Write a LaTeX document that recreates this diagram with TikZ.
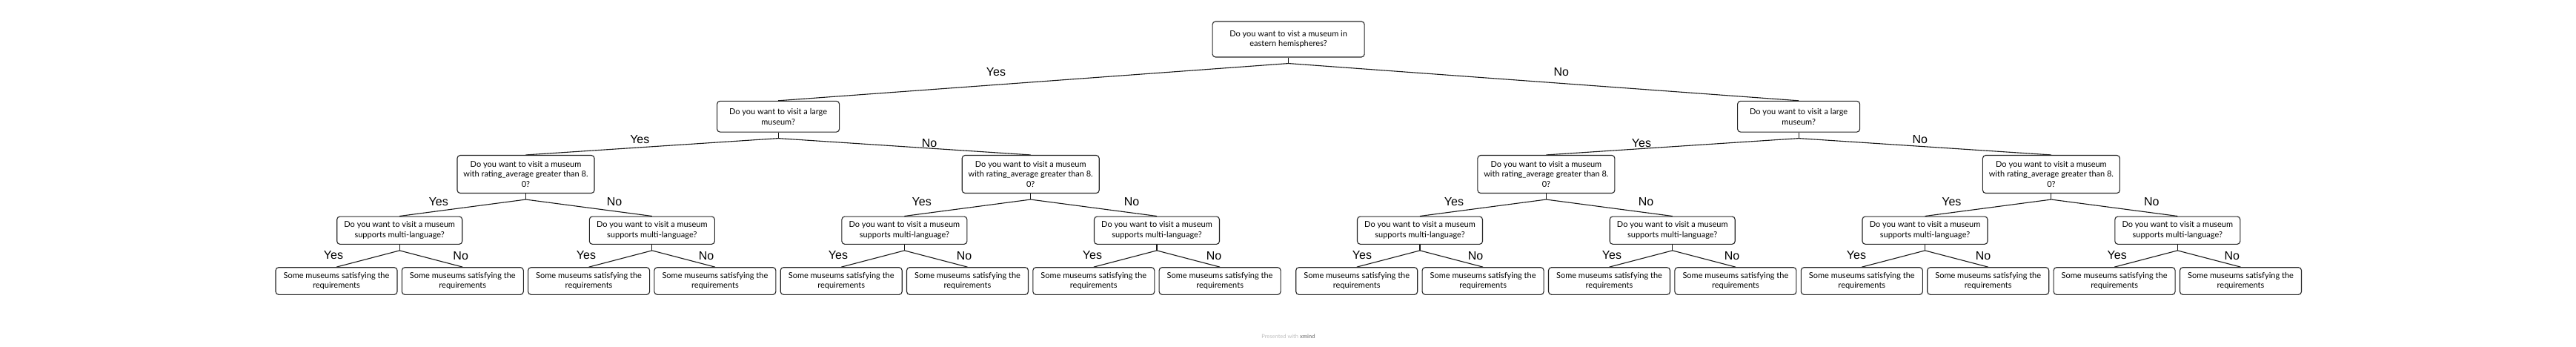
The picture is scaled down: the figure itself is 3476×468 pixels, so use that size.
\documentclass[tikz,border=0pt]{standalone}
\usepackage{fontspec}
\setmainfont{Lato}
\newfontfamily\lblfont{Liberation Sans}
\newcommand{\leaftext}{Some museums satisfying the\\requirements}
\newcommand{\langtext}{Do you want to visit a museum\\supports multi-language?}
\newcommand{\ratetext}{Do you want to visit a museum\\with rating\_average greater than 8.\\0?}
\newcommand{\largetext}{Do you want to visit a large\\museum?}
\begin{document}
\begin{tikzpicture}[x=1pt,y=-1pt,
  qbox/.style={draw=black!85, line width=1.1pt, rounded corners=4pt, align=center, inner sep=0pt, font=\fontsize{11}{13.7}\selectfont, fill=white},
  rootbox/.style={qbox, minimum width=205pt, minimum height=48pt},
  lgbox/.style={qbox, minimum width=165pt, minimum height=41.7pt},
  rtbox/.style={qbox, minimum width=185pt, minimum height=51pt},
  mlbox/.style={qbox, minimum width=169pt, minimum height=37.3pt},
  leafbox/.style={qbox, minimum width=164pt, minimum height=36.6pt},
  conn/.style={line width=1.1pt, black!90},
  lbl/.style={font=\lblfont\fontsize{16}{16}\selectfont, anchor=base, inner sep=0pt},
]
\fill[white] (0,0) rectangle (3476,468);
\useasboundingbox (0,0) rectangle (3476,468);

\node[rootbox] (root) at (1738.6,53) {Do you want to vist a museum in\\eastern hemispheres?};
\node[lgbox] (a) at (1050.1,157.2) {\largetext};
\node[lgbox] (b) at (2427.1,157.2) {\largetext};
\node[rtbox] (aa) at (709.5,235) {\ratetext};
\node[rtbox] (ab) at (1390.7,235) {\ratetext};
\node[rtbox] (ba) at (2086.4,235) {\ratetext};
\node[rtbox] (bb) at (2767.9,235) {\ratetext};
\foreach \x [count=\i] in {539.2,879.8,1220.4,1561,1916,2256.7,2597.5,2938.3}
  \node[mlbox] (m\i) at (\x,310.7) {\langtext};
\foreach \x [count=\i] in {454,624.3,794.6,964.9,1135.2,1305.5,1475.8,1646.1,1830.7,2001.1,2171.5,2341.9,2512.3,2682.7,2853.1,3023.5}
  \node[leafbox] (f\i) at (\x,379) {\leaftext};

\foreach \n in {root,a,b,aa,ab,ba,bb,m1,m2,m3,m4,m5,m6,m7,m8}
  \draw[conn] (\n.south) -- ++(0,8) coordinate (\n-j);
\foreach \p/\c in {root/a,root/b,a/aa,a/ab,b/ba,b/bb,aa/m1,aa/m2,ab/m3,ab/m4,ba/m5,ba/m6,bb/m7,bb/m8,
  m1/f1,m1/f2,m2/f3,m2/f4,m3/f5,m3/f6,m4/f7,m4/f8,m5/f9,m5/f10,m6/f11,m6/f12,m7/f13,m7/f14,m8/f15,m8/f16}
  \draw[conn] (\p-j) -- (\c.north);

% labels
\node[lbl] (y0) at (1344,102.7) {Yes};
\node[lbl] (n0) at (2106.7,102.7) {No};
\node[lbl] (y1) at (863.3,193.3) {Yes};
\node[lbl] (n1) at (1254,198.3) {No};
\node[lbl] (y2) at (2215,198.3) {Yes};
\node[lbl] (n2) at (2590.7,193.3) {No};
\node[lbl] (y3) at (591.7,277.3) {Yes};
\node[lbl] (n3) at (829,277.5) {No};
\node[lbl] (y4) at (1243.7,277.5) {Yes};
\node[lbl] (n4) at (1527,277.5) {No};
\node[lbl] (y5) at (1962,277.5) {Yes};
\node[lbl] (n5) at (2221,277.5) {No};
\node[lbl] (y6) at (2633.3,277.5) {Yes};
\node[lbl] (n6) at (2903.3,277.5) {No};
\foreach \x [count=\i] in {450,791,1131,1474,1838,2175,2505,2856.7}
  \node[lbl] (ly\i) at (\x,349.5) {Yes};
\foreach \x [count=\i] in {621.7,953,1301,1638,1991,2337,2676,3011.7}
  \node[lbl] (ln\i) at (\x,350.5) {No};

\node[font=\fontsize{7.5}{9}\selectfont, text=black!25, inner sep=0pt] (wm) at (1738.5,454) {Presented with \textcolor{black!45}{\bfseries xmind}};
\end{tikzpicture}
\end{document}
